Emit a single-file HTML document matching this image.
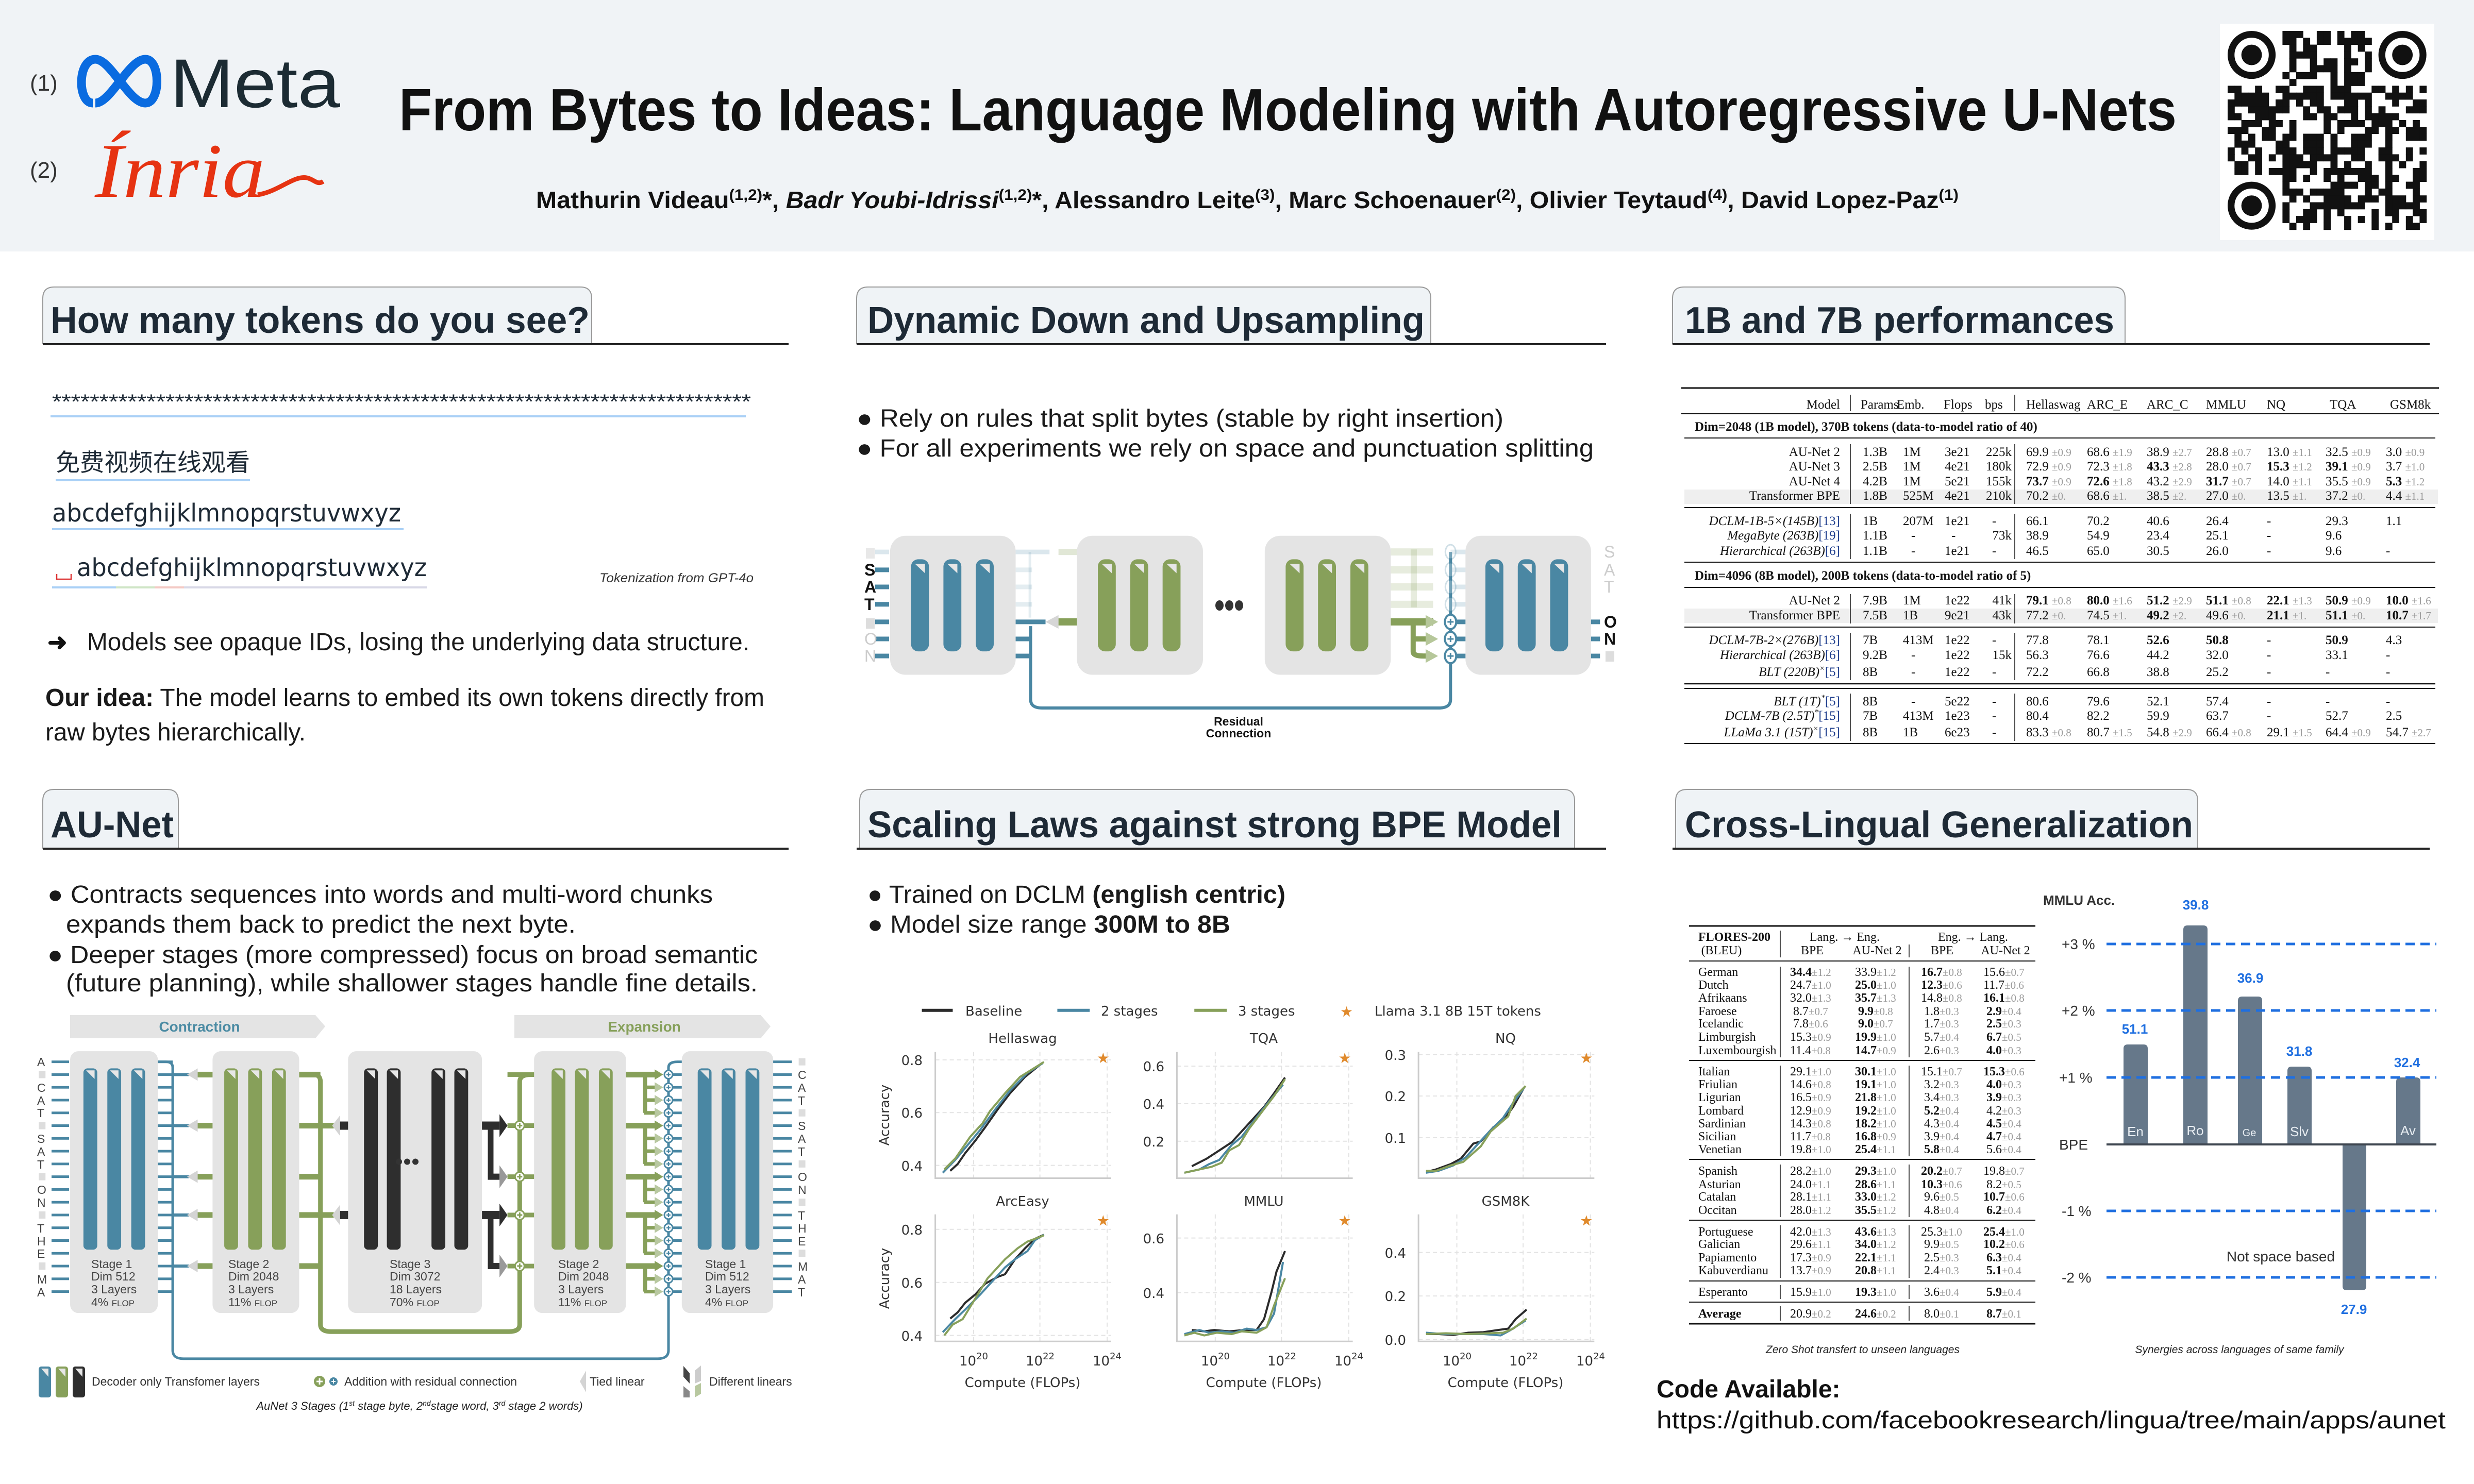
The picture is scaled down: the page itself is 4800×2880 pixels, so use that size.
<!DOCTYPE html>
<html><head><meta charset="utf-8">
<style>
html,body{margin:0;padding:0;background:#fff;}
svg{display:block;}
.s{font-family:"Liberation Sans","Noto Sans CJK SC",sans-serif;}
.sf{font-family:"Liberation Serif",serif;}
.tb{font-family:"Liberation Serif",serif;font-size:25px;fill:#111;}
.pm{fill:#9a9a9a;font-size:21px;}
.b{font-weight:bold;}
.e{text-anchor:end;}
.m{text-anchor:middle;}
.ct{font-family:"Liberation Serif",serif;font-size:24px;fill:#111;}
.hd{font-family:"Liberation Sans",sans-serif;font-weight:bold;font-size:72px;fill:#1e2a36;}
.bl{font-family:"Liberation Sans",sans-serif;font-size:48px;fill:#1a1a1a;}
.pl{font-family:"DejaVu Sans","Liberation Sans",sans-serif;font-size:26px;fill:#333;}
.au{font-family:"Liberation Sans",sans-serif;font-size:23px;fill:#444;}
.lt{font-family:"Liberation Sans",sans-serif;font-size:23px;fill:#333;}
</style></head>
<body>
<svg id="svg" xmlns="http://www.w3.org/2000/svg" width="4800" height="2880" viewBox="0 0 4800 2880">
<rect x="0" y="0" width="4800" height="2880" fill="#fff"/>
<rect x="0" y="0" width="4800" height="488" fill="#f0f3f6"/>

<!-- logos -->
<text x="58" y="176" class="s" font-size="44" fill="#333">(1)</text>
<path d="M180 200 C150 200 150 115 185 115 C215 115 250 200 282 200 C312 200 312 115 282 115 C250 115 215 200 185 200" fill="none" stroke="#0a6be0" stroke-width="17"/>
<text x="330" y="208" class="s" font-size="134" fill="#1c2b33" textLength="330" lengthAdjust="spacingAndGlyphs">Meta</text>
<text x="58" y="345" class="s" font-size="44" fill="#333">(2)</text>
<text x="184" y="382" font-family="Liberation Serif,serif" font-style="italic" font-size="150" fill="#e63312" textLength="330" lengthAdjust="spacingAndGlyphs">Ínria</text>
<path d="M500 378 C540 372 570 340 595 345 C610 348 615 360 627 352" fill="none" stroke="#e63312" stroke-width="9"/>

<!-- title -->
<text x="774" y="253" class="s" font-weight="bold" font-size="116" fill="#111" textLength="3449" lengthAdjust="spacingAndGlyphs">From Bytes to Ideas: Language Modeling with Autoregressive U-Nets</text>
<text x="1040" y="404" class="s" font-weight="bold" font-size="46" fill="#111" textLength="2760" lengthAdjust="spacingAndGlyphs">Mathurin Videau<tspan font-size="30" dy="-16">(1,2)</tspan><tspan dy="16">*, </tspan><tspan font-style="italic">Badr Youbi-Idrissi</tspan><tspan font-size="30" dy="-16">(1,2)</tspan><tspan dy="16">*, Alessandro Leite</tspan><tspan font-size="30" dy="-16">(3)</tspan><tspan dy="16">,  Marc Schoenauer</tspan><tspan font-size="30" dy="-16">(2)</tspan><tspan dy="16">, Olivier Teytaud</tspan><tspan font-size="30" dy="-16">(4)</tspan><tspan dy="16">, David Lopez-Paz</tspan><tspan font-size="30" dy="-16">(1)</tspan></text>

<!-- QR -->
<rect x="4307" y="46" width="416" height="420" fill="#fff"/>
<g id="qr"></g>

<!-- Section headers -->
<g id="tabs"></g>
<text x="98" y="646" class="hd" textLength="1046" lengthAdjust="spacingAndGlyphs">How many tokens do you see?</text>
<text x="1683" y="646" class="hd" textLength="1081" lengthAdjust="spacingAndGlyphs">Dynamic Down and Upsampling</text>
<text x="3269" y="646" class="hd" textLength="833" lengthAdjust="spacingAndGlyphs">1B and 7B performances</text>
<text x="98" y="1625" class="hd" textLength="239" lengthAdjust="spacingAndGlyphs">AU-Net</text>
<text x="1683" y="1625" class="hd" textLength="1347" lengthAdjust="spacingAndGlyphs">Scaling Laws against strong BPE Model</text>
<text x="3269" y="1625" class="hd" textLength="986" lengthAdjust="spacingAndGlyphs">Cross-Lingual Generalization</text>

<!-- Panel 1 -->
<text x="101" y="793" class="s" font-size="40" fill="#1e2a36" textLength="1356" lengthAdjust="spacingAndGlyphs">**************************************************************************</text>
<line x1="98" y1="808" x2="1447" y2="808" stroke="#a9d0f6" stroke-width="4"/>
<text x="108" y="914" font-family="Liberation Sans,Noto Sans CJK SC,sans-serif" font-size="47" fill="#1e2a36" textLength="377" lengthAdjust="spacingAndGlyphs">免费视频在线观看</text>
<line x1="108" y1="932" x2="485" y2="932" stroke="#a9d0f6" stroke-width="4"/>
<text x="101" y="1012" font-family="DejaVu Sans,Liberation Sans,sans-serif" font-size="48" fill="#1e2a36" textLength="677" lengthAdjust="spacingAndGlyphs">abcdefghijklmnopqrstuvwxyz</text>
<line x1="101" y1="1027" x2="783" y2="1027" stroke="#a9d0f6" stroke-width="4"/>
<path d="M110 1114 V1124 H138 V1114" fill="none" stroke="#d33" stroke-width="2.5"/>
<text x="149" y="1118" font-family="DejaVu Sans,Liberation Sans,sans-serif" font-size="48" fill="#1e2a36" textLength="679" lengthAdjust="spacingAndGlyphs">abcdefghijklmnopqrstuvwxyz</text>
<line x1="101" y1="1140" x2="225" y2="1140" stroke="#a9d0f6" stroke-width="4"/>
<line x1="225" y1="1140" x2="300" y2="1140" stroke="#cfe5c6" stroke-width="4"/>
<line x1="300" y1="1140" x2="357" y2="1140" stroke="#f3c9c4" stroke-width="4"/>
<line x1="357" y1="1140" x2="828" y2="1140" stroke="#d8d8e6" stroke-width="4"/>
<text x="1163" y="1130" class="s" font-style="italic" font-size="25" fill="#333" textLength="299" lengthAdjust="spacingAndGlyphs">Tokenization from GPT-4o</text>
<text x="92" y="1262" class="s" font-weight="bold" font-size="46" fill="#111">➜</text>
<text x="169" y="1262" class="bl" textLength="1285" lengthAdjust="spacingAndGlyphs">Models see opaque IDs, losing the underlying data structure.</text>
<text x="88" y="1370" class="bl" textLength="1395" lengthAdjust="spacingAndGlyphs"><tspan font-weight="bold">Our idea:</tspan> The model learns to embed its own tokens directly from</text>
<text x="88" y="1437" class="bl" textLength="505" lengthAdjust="spacingAndGlyphs">raw bytes hierarchically.</text>

<!-- Panel 2 -->
<text x="1662" y="828" class="bl" textLength="1255" lengthAdjust="spacingAndGlyphs">● Rely on rules that split bytes (stable by right insertion)</text>
<text x="1662" y="886" class="bl" textLength="1430" lengthAdjust="spacingAndGlyphs">● For all experiments we rely on space and punctuation splitting</text>
<g id="dyn"></g>
<text x="1677" y="1117" class="s b" font-weight="bold" font-size="32" fill="#111">S</text>
<text x="1677" y="1150" class="s" font-weight="bold" font-size="32" fill="#111">A</text>
<text x="1677" y="1184" class="s" font-weight="bold" font-size="32" fill="#111">T</text>
<text x="1677" y="1251" class="s" font-size="32" fill="#ccc">O</text>
<text x="1677" y="1284" class="s" font-size="32" fill="#ccc">N</text>
<text x="3112" y="1082" class="s" font-size="32" fill="#ccc">S</text>
<text x="3112" y="1117" class="s" font-size="32" fill="#ccc">A</text>
<text x="3112" y="1150" class="s" font-size="32" fill="#ccc">T</text>
<text x="3112" y="1218" class="s" font-weight="bold" font-size="32" fill="#111">O</text>
<text x="3112" y="1251" class="s" font-weight="bold" font-size="32" fill="#111">N</text>
<text x="2403" y="1408" class="s m" font-weight="bold" font-size="23" fill="#111">Residual</text>
<text x="2403" y="1431" class="s m" font-weight="bold" font-size="23" fill="#111">Connection</text>

<!-- Panel 3 table -->
<g id="t3lines"></g>
<rect x="3268" y="950" width="1462" height="28" fill="#efefef"/>
<rect x="3268" y="1181" width="1462" height="28" fill="#efefef"/>
<line x1="3262" y1="753" x2="4732" y2="753" stroke="#111" stroke-width="3"/>
<line x1="3262" y1="803" x2="4732" y2="803" stroke="#111" stroke-width="2"/>
<line x1="3268" y1="850" x2="4725" y2="850" stroke="#111" stroke-width="2"/>
<line x1="3268" y1="985" x2="4725" y2="985" stroke="#111" stroke-width="2"/>
<line x1="3268" y1="1091" x2="4725" y2="1091" stroke="#111" stroke-width="2"/>
<line x1="3268" y1="1140" x2="4725" y2="1140" stroke="#111" stroke-width="2"/>
<line x1="3268" y1="1217" x2="4725" y2="1217" stroke="#111" stroke-width="2"/>
<line x1="3268" y1="1327" x2="4725" y2="1327" stroke="#111" stroke-width="2.5"/>
<line x1="3268" y1="1336" x2="4725" y2="1336" stroke="#111" stroke-width="2"/>
<line x1="3268" y1="1443" x2="4725" y2="1443" stroke="#111" stroke-width="2"/>
<g stroke="#111" stroke-width="1.5">
<line x1="3590" y1="766" x2="3590" y2="798"/><line x1="3909" y1="766" x2="3909" y2="798"/>
<line x1="3590" y1="862" x2="3590" y2="978"/><line x1="3909" y1="862" x2="3909" y2="978"/>
<line x1="3590" y1="997" x2="3590" y2="1085"/><line x1="3909" y1="997" x2="3909" y2="1085"/>
<line x1="3590" y1="1153" x2="3590" y2="1210"/><line x1="3909" y1="1153" x2="3909" y2="1210"/>
<line x1="3590" y1="1228" x2="3590" y2="1320"/><line x1="3909" y1="1228" x2="3909" y2="1320"/>
<line x1="3590" y1="1346" x2="3590" y2="1438"/><line x1="3909" y1="1346" x2="3909" y2="1438"/>
</g>
<g class="tb">
<text x="3570" y="793" class="tb e">Model</text>
<text x="3610" y="793" class="tb">Params</text><text x="3680" y="793" class="tb">Emb.</text><text x="3771" y="793" class="tb">Flops</text><text x="3851" y="793" class="tb">bps</text>
<text x="3931" y="793" class="tb">Hellaswag</text><text x="4049" y="793" class="tb">ARC_E</text><text x="4165" y="793" class="tb">ARC_C</text><text x="4280" y="793" class="tb">MMLU</text><text x="4398" y="793" class="tb">NQ</text><text x="4520" y="793" class="tb">TQA</text><text x="4637" y="793" class="tb">GSM8k</text>
<text x="3288" y="836" class="tb b">Dim=2048 (1B model), 370B tokens (data-to-model ratio of 40)</text>

<text x="3570" y="885" class="tb e">AU-Net 2</text><text x="3614" y="885" class="tb">1.3B</text><text x="3692" y="885" class="tb">1M</text><text x="3773" y="885" class="tb">3e21</text><text x="3903" y="885" class="tb e">225k</text>
<text x="3931" y="885" class="tb">69.9 <tspan class="pm">±0.9</tspan></text><text x="4049" y="885" class="tb">68.6 <tspan class="pm">±1.9</tspan></text><text x="4165" y="885" class="tb">38.9 <tspan class="pm">±2.7</tspan></text><text x="4280" y="885" class="tb">28.8 <tspan class="pm">±0.7</tspan></text><text x="4398" y="885" class="tb">13.0 <tspan class="pm">±1.1</tspan></text><text x="4512" y="885" class="tb">32.5 <tspan class="pm">±0.9</tspan></text><text x="4629" y="885" class="tb">3.0 <tspan class="pm">±0.9</tspan></text>

<text x="3570" y="913" class="tb e">AU-Net 3</text><text x="3614" y="913" class="tb">2.5B</text><text x="3692" y="913" class="tb">1M</text><text x="3773" y="913" class="tb">4e21</text><text x="3903" y="913" class="tb e">180k</text>
<text x="3931" y="913" class="tb">72.9 <tspan class="pm">±0.9</tspan></text><text x="4049" y="913" class="tb">72.3 <tspan class="pm">±1.8</tspan></text><text x="4165" y="913" class="tb"><tspan class="b">43.3</tspan> <tspan class="pm">±2.8</tspan></text><text x="4280" y="913" class="tb">28.0 <tspan class="pm">±0.7</tspan></text><text x="4398" y="913" class="tb"><tspan class="b">15.3</tspan> <tspan class="pm">±1.2</tspan></text><text x="4512" y="913" class="tb"><tspan class="b">39.1</tspan> <tspan class="pm">±0.9</tspan></text><text x="4629" y="913" class="tb">3.7 <tspan class="pm">±1.0</tspan></text>

<text x="3570" y="942" class="tb e">AU-Net 4</text><text x="3614" y="942" class="tb">4.2B</text><text x="3692" y="942" class="tb">1M</text><text x="3773" y="942" class="tb">5e21</text><text x="3903" y="942" class="tb e">155k</text>
<text x="3931" y="942" class="tb"><tspan class="b">73.7</tspan> <tspan class="pm">±0.9</tspan></text><text x="4049" y="942" class="tb"><tspan class="b">72.6</tspan> <tspan class="pm">±1.8</tspan></text><text x="4165" y="942" class="tb">43.2 <tspan class="pm">±2.9</tspan></text><text x="4280" y="942" class="tb"><tspan class="b">31.7</tspan> <tspan class="pm">±0.7</tspan></text><text x="4398" y="942" class="tb">14.0 <tspan class="pm">±1.1</tspan></text><text x="4512" y="942" class="tb">35.5 <tspan class="pm">±0.9</tspan></text><text x="4629" y="942" class="tb"><tspan class="b">5.3</tspan> <tspan class="pm">±1.2</tspan></text>

<text x="3570" y="970" class="tb e">Transformer BPE</text><text x="3614" y="970" class="tb">1.8B</text><text x="3692" y="970" class="tb">525M</text><text x="3773" y="970" class="tb">4e21</text><text x="3903" y="970" class="tb e">210k</text>
<text x="3931" y="970" class="tb">70.2 <tspan class="pm">±0.</tspan></text><text x="4049" y="970" class="tb">68.6 <tspan class="pm">±1.</tspan></text><text x="4165" y="970" class="tb">38.5 <tspan class="pm">±2.</tspan></text><text x="4280" y="970" class="tb">27.0 <tspan class="pm">±0.</tspan></text><text x="4398" y="970" class="tb">13.5 <tspan class="pm">±1.</tspan></text><text x="4512" y="970" class="tb">37.2 <tspan class="pm">±0.</tspan></text><text x="4629" y="970" class="tb">4.4 <tspan class="pm">±1.1</tspan></text>

<text x="3570" y="1019" class="tb e" font-style="italic">DCLM-1B-5×(145B)<tspan fill="#1a3a8a" font-style="normal">[13]</tspan></text><text x="3614" y="1019" class="tb">1B</text><text x="3692" y="1019" class="tb">207M</text><text x="3773" y="1019" class="tb">1e21</text><text x="3865" y="1019" class="tb">-</text>
<text x="3931" y="1019" class="tb">66.1</text><text x="4049" y="1019" class="tb">70.2</text><text x="4165" y="1019" class="tb">40.6</text><text x="4280" y="1019" class="tb">26.4</text><text x="4398" y="1019" class="tb">-</text><text x="4512" y="1019" class="tb">29.3</text><text x="4629" y="1019" class="tb">1.1</text>

<text x="3570" y="1047" class="tb e" font-style="italic">MegaByte (263B)<tspan fill="#1a3a8a" font-style="normal">[19]</tspan></text><text x="3614" y="1047" class="tb">1.1B</text><text x="3708" y="1047" class="tb">-</text><text x="3786" y="1047" class="tb">-</text><text x="3903" y="1047" class="tb e">73k</text>
<text x="3931" y="1047" class="tb">38.9</text><text x="4049" y="1047" class="tb">54.9</text><text x="4165" y="1047" class="tb">23.4</text><text x="4280" y="1047" class="tb">25.1</text><text x="4398" y="1047" class="tb">-</text><text x="4512" y="1047" class="tb">9.6</text>

<text x="3570" y="1077" class="tb e" font-style="italic">Hierarchical (263B)<tspan fill="#1a3a8a" font-style="normal">[6]</tspan></text><text x="3614" y="1077" class="tb">1.1B</text><text x="3708" y="1077" class="tb">-</text><text x="3773" y="1077" class="tb">1e21</text><text x="3865" y="1077" class="tb">-</text>
<text x="3931" y="1077" class="tb">46.5</text><text x="4049" y="1077" class="tb">65.0</text><text x="4165" y="1077" class="tb">30.5</text><text x="4280" y="1077" class="tb">26.0</text><text x="4398" y="1077" class="tb">-</text><text x="4512" y="1077" class="tb">9.6</text><text x="4629" y="1077" class="tb">-</text>

<text x="3288" y="1125" class="tb b">Dim=4096 (8B model), 200B tokens (data-to-model ratio of 5)</text>

<text x="3570" y="1173" class="tb e">AU-Net 2</text><text x="3614" y="1173" class="tb">7.9B</text><text x="3692" y="1173" class="tb">1M</text><text x="3773" y="1173" class="tb">1e22</text><text x="3903" y="1173" class="tb e">41k</text>
<text x="3931" y="1173" class="tb"><tspan class="b">79.1</tspan> <tspan class="pm">±0.8</tspan></text><text x="4049" y="1173" class="tb"><tspan class="b">80.0</tspan> <tspan class="pm">±1.6</tspan></text><text x="4165" y="1173" class="tb"><tspan class="b">51.2</tspan> <tspan class="pm">±2.9</tspan></text><text x="4280" y="1173" class="tb"><tspan class="b">51.1</tspan> <tspan class="pm">±0.8</tspan></text><text x="4398" y="1173" class="tb"><tspan class="b">22.1</tspan> <tspan class="pm">±1.3</tspan></text><text x="4512" y="1173" class="tb"><tspan class="b">50.9</tspan> <tspan class="pm">±0.9</tspan></text><text x="4629" y="1173" class="tb"><tspan class="b">10.0</tspan> <tspan class="pm">±1.6</tspan></text>

<text x="3570" y="1202" class="tb e">Transformer BPE</text><text x="3614" y="1202" class="tb">7.5B</text><text x="3692" y="1202" class="tb">1B</text><text x="3773" y="1202" class="tb">9e21</text><text x="3903" y="1202" class="tb e">43k</text>
<text x="3931" y="1202" class="tb">77.2 <tspan class="pm">±0.</tspan></text><text x="4049" y="1202" class="tb">74.5 <tspan class="pm">±1.</tspan></text><text x="4165" y="1202" class="tb"><tspan class="b">49.2</tspan> <tspan class="pm">±2.</tspan></text><text x="4280" y="1202" class="tb">49.6 <tspan class="pm">±0.</tspan></text><text x="4398" y="1202" class="tb"><tspan class="b">21.1</tspan> <tspan class="pm">±1.</tspan></text><text x="4512" y="1202" class="tb"><tspan class="b">51.1</tspan> <tspan class="pm">±0.</tspan></text><text x="4629" y="1202" class="tb"><tspan class="b">10.7</tspan> <tspan class="pm">±1.7</tspan></text>

<text x="3570" y="1250" class="tb e" font-style="italic">DCLM-7B-2×(276B)<tspan fill="#1a3a8a" font-style="normal">[13]</tspan></text><text x="3614" y="1250" class="tb">7B</text><text x="3692" y="1250" class="tb">413M</text><text x="3773" y="1250" class="tb">1e22</text><text x="3865" y="1250" class="tb">-</text>
<text x="3931" y="1250" class="tb">77.8</text><text x="4049" y="1250" class="tb">78.1</text><text x="4165" y="1250" class="tb b">52.6</text><text x="4280" y="1250" class="tb b">50.8</text><text x="4398" y="1250" class="tb">-</text><text x="4512" y="1250" class="tb b">50.9</text><text x="4629" y="1250" class="tb">4.3</text>

<text x="3570" y="1279" class="tb e" font-style="italic">Hierarchical (263B)<tspan fill="#1a3a8a" font-style="normal">[6]</tspan></text><text x="3614" y="1279" class="tb">9.2B</text><text x="3708" y="1279" class="tb">-</text><text x="3773" y="1279" class="tb">1e22</text><text x="3903" y="1279" class="tb e">15k</text>
<text x="3931" y="1279" class="tb">56.3</text><text x="4049" y="1279" class="tb">76.6</text><text x="4165" y="1279" class="tb">44.2</text><text x="4280" y="1279" class="tb">32.0</text><text x="4398" y="1279" class="tb">-</text><text x="4512" y="1279" class="tb">33.1</text><text x="4629" y="1279" class="tb">-</text>

<text x="3570" y="1312" class="tb e" font-style="italic">BLT (220B)<tspan font-size="16" dy="-10">×</tspan><tspan dy="10" fill="#1a3a8a" font-style="normal">[5]</tspan></text><text x="3614" y="1312" class="tb">8B</text><text x="3708" y="1312" class="tb">-</text><text x="3773" y="1312" class="tb">1e22</text><text x="3865" y="1312" class="tb">-</text>
<text x="3931" y="1312" class="tb">72.2</text><text x="4049" y="1312" class="tb">66.8</text><text x="4165" y="1312" class="tb">38.8</text><text x="4280" y="1312" class="tb">25.2</text><text x="4398" y="1312" class="tb">-</text><text x="4512" y="1312" class="tb">-</text><text x="4629" y="1312" class="tb">-</text>

<text x="3570" y="1369" class="tb e" font-style="italic">BLT (1T)<tspan font-size="16" dy="-10">*</tspan><tspan dy="10" fill="#1a3a8a" font-style="normal">[5]</tspan></text><text x="3614" y="1369" class="tb">8B</text><text x="3708" y="1369" class="tb">-</text><text x="3773" y="1369" class="tb">5e22</text><text x="3865" y="1369" class="tb">-</text>
<text x="3931" y="1369" class="tb">80.6</text><text x="4049" y="1369" class="tb">79.6</text><text x="4165" y="1369" class="tb">52.1</text><text x="4280" y="1369" class="tb">57.4</text><text x="4398" y="1369" class="tb">-</text><text x="4512" y="1369" class="tb">-</text><text x="4629" y="1369" class="tb">-</text>

<text x="3570" y="1397" class="tb e" font-style="italic">DCLM-7B (2.5T)<tspan font-size="16" dy="-10">*</tspan><tspan dy="10" fill="#1a3a8a" font-style="normal">[15]</tspan></text><text x="3614" y="1397" class="tb">7B</text><text x="3692" y="1397" class="tb">413M</text><text x="3773" y="1397" class="tb">1e23</text><text x="3865" y="1397" class="tb">-</text>
<text x="3931" y="1397" class="tb">80.4</text><text x="4049" y="1397" class="tb">82.2</text><text x="4165" y="1397" class="tb">59.9</text><text x="4280" y="1397" class="tb">63.7</text><text x="4398" y="1397" class="tb">-</text><text x="4512" y="1397" class="tb">52.7</text><text x="4629" y="1397" class="tb">2.5</text>

<text x="3570" y="1429" class="tb e" font-style="italic">LLaMa 3.1 (15T)<tspan font-size="16" dy="-10">×</tspan><tspan dy="10" fill="#1a3a8a" font-style="normal">[15]</tspan></text><text x="3614" y="1429" class="tb">8B</text><text x="3692" y="1429" class="tb">1B</text><text x="3773" y="1429" class="tb">6e23</text><text x="3865" y="1429" class="tb">-</text>
<text x="3931" y="1429" class="tb">83.3 <tspan class="pm">±0.8</tspan></text><text x="4049" y="1429" class="tb">80.7 <tspan class="pm">±1.5</tspan></text><text x="4165" y="1429" class="tb">54.8 <tspan class="pm">±2.9</tspan></text><text x="4280" y="1429" class="tb">66.4 <tspan class="pm">±0.8</tspan></text><text x="4398" y="1429" class="tb">29.1 <tspan class="pm">±1.5</tspan></text><text x="4512" y="1429" class="tb">64.4 <tspan class="pm">±0.9</tspan></text><text x="4629" y="1429" class="tb">54.7 <tspan class="pm">±2.7</tspan></text>
</g>

<!-- Panel 4 AU-Net -->
<text x="92" y="1752" class="bl" textLength="1291" lengthAdjust="spacingAndGlyphs">● Contracts sequences into words and multi-word chunks</text>
<text x="128" y="1810" class="bl" textLength="989" lengthAdjust="spacingAndGlyphs">expands them back to predict the next byte.</text>
<text x="92" y="1869" class="bl" textLength="1378" lengthAdjust="spacingAndGlyphs">● Deeper stages (more compressed) focus on broad semantic</text>
<text x="128" y="1924" class="bl" textLength="1342" lengthAdjust="spacingAndGlyphs">(future planning), while shallower stages handle fine details.</text>
<path d="M136 1970 H612 L631 1992 L612 2015 H136 Z" fill="#e4e4e4"/>
<path d="M998 1970 H1476 L1495 1992 L1476 2015 H998 Z" fill="#e4e4e4"/>
<text x="387" y="2002" class="s m" font-size="28" fill="#4b8ba3" font-weight="bold">Contraction</text>
<text x="1250" y="2002" class="s m" font-size="28" fill="#86a05a" font-weight="bold">Expansion</text>
<g id="au"></g>
<g class="au" font-family="Liberation Sans,sans-serif" font-size="23" fill="#333">
<text x="72" y="2069">A</text><text x="72" y="2119">C</text><text x="72" y="2144">A</text><text x="72" y="2168">T</text>
<text x="72" y="2218">S</text><text x="72" y="2243">A</text><text x="72" y="2268">T</text>
<text x="72" y="2317">O</text><text x="72" y="2342">N</text>
<text x="72" y="2392">T</text><text x="72" y="2417">H</text><text x="72" y="2441">E</text>
<text x="72" y="2491">M</text><text x="72" y="2516">A</text>
<text x="1548" y="2094">C</text><text x="1548" y="2119">A</text><text x="1548" y="2144">T</text>
<text x="1548" y="2193">S</text><text x="1548" y="2218">A</text><text x="1548" y="2243">T</text>
<text x="1548" y="2292">O</text><text x="1548" y="2317">N</text>
<text x="1548" y="2367">T</text><text x="1548" y="2392">H</text><text x="1548" y="2417">E</text>
<text x="1548" y="2466">M</text><text x="1548" y="2491">A</text><text x="1548" y="2516">T</text>
</g>
<g class="au">
<text x="177" y="2461">Stage 1</text><text x="177" y="2485">Dim 512</text><text x="177" y="2510">3 Layers</text><text x="177" y="2535">4% <tspan font-size="17">FLOP</tspan></text>
<text x="443" y="2461">Stage 2</text><text x="443" y="2485">Dim 2048</text><text x="443" y="2510">3 Layers</text><text x="443" y="2535">11% <tspan font-size="17">FLOP</tspan></text>
<text x="756" y="2461">Stage 3</text><text x="756" y="2485">Dim 3072</text><text x="756" y="2510">18 Layers</text><text x="756" y="2535">70% <tspan font-size="17">FLOP</tspan></text>
<text x="1083" y="2461">Stage 2</text><text x="1083" y="2485">Dim 2048</text><text x="1083" y="2510">3 Layers</text><text x="1083" y="2535">11% <tspan font-size="17">FLOP</tspan></text>
<text x="1368" y="2461">Stage 1</text><text x="1368" y="2485">Dim 512</text><text x="1368" y="2510">3 Layers</text><text x="1368" y="2535">4% <tspan font-size="17">FLOP</tspan></text>
</g>
<text x="178" y="2689" class="lt">Decoder only Transfomer layers</text>
<text x="668" y="2689" class="lt">Addition with residual connection</text>
<text x="1144" y="2689" class="lt">Tied linear</text>
<text x="1376" y="2689" class="lt">Different linears</text>
<text x="814" y="2736" class="s m" font-style="italic" font-size="22" fill="#222">AuNet 3 Stages (1<tspan font-size="14" dy="-8">st</tspan><tspan dy="8"> stage byte, 2</tspan><tspan font-size="14" dy="-8">nd</tspan><tspan dy="8">stage word, 3</tspan><tspan font-size="14" dy="-8">rd</tspan><tspan dy="8"> stage 2 words)</tspan></text>

<!-- Panel 5 scaling -->
<text x="1683" y="1752" class="bl" textLength="811" lengthAdjust="spacingAndGlyphs">● Trained on DCLM <tspan font-weight="bold">(english centric)</tspan></text>
<text x="1683" y="1810" class="bl" textLength="704" lengthAdjust="spacingAndGlyphs">● Model size range <tspan font-weight="bold">300M to 8B</tspan></text>
<g id="plots"></g>
<g class="pl">
<text x="1873" y="1971">Baseline</text><text x="2136" y="1971">2 stages</text><text x="2402" y="1971">3 stages</text>
<text x="2600" y="1973" fill="#e08a2c" font-size="28">★</text><text x="2667" y="1971">Llama 3.1 8B 15T tokens</text>
<text x="1984" y="2024" class="m" text-anchor="middle">Hellaswag</text><text x="2452" y="2024" text-anchor="middle">TQA</text><text x="2921" y="2024" text-anchor="middle">NQ</text>
<text x="1984" y="2340" text-anchor="middle">ArcEasy</text><text x="2452" y="2340" text-anchor="middle">MMLU</text><text x="2921" y="2340" text-anchor="middle">GSM8K</text>
<text x="1790" y="2067" text-anchor="end">0.8</text><text x="1790" y="2169" text-anchor="end">0.6</text><text x="1790" y="2272" text-anchor="end">0.4</text>
<text x="2259" y="2079" text-anchor="end">0.6</text><text x="2259" y="2152" text-anchor="end">0.4</text><text x="2259" y="2225" text-anchor="end">0.2</text>
<text x="2728" y="2057" text-anchor="end">0.3</text><text x="2728" y="2137" text-anchor="end">0.2</text><text x="2728" y="2218" text-anchor="end">0.1</text>
<text x="1790" y="2396" text-anchor="end">0.8</text><text x="1790" y="2499" text-anchor="end">0.6</text><text x="1790" y="2602" text-anchor="end">0.4</text>
<text x="2259" y="2413" text-anchor="end">0.6</text><text x="2259" y="2519" text-anchor="end">0.4</text>
<text x="2728" y="2441" text-anchor="end">0.4</text><text x="2728" y="2525" text-anchor="end">0.2</text><text x="2728" y="2610" text-anchor="end">0.0</text>
<text x="1889" y="2650" text-anchor="middle">10<tspan font-size="18" dy="-12">20</tspan></text><text x="2018" y="2650" text-anchor="middle">10<tspan font-size="18" dy="-12">22</tspan></text><text x="2148" y="2650" text-anchor="middle">10<tspan font-size="18" dy="-12">24</tspan></text>
<text x="2358" y="2650" text-anchor="middle">10<tspan font-size="18" dy="-12">20</tspan></text><text x="2487" y="2650" text-anchor="middle">10<tspan font-size="18" dy="-12">22</tspan></text><text x="2617" y="2650" text-anchor="middle">10<tspan font-size="18" dy="-12">24</tspan></text>
<text x="2827" y="2650" text-anchor="middle">10<tspan font-size="18" dy="-12">20</tspan></text><text x="2956" y="2650" text-anchor="middle">10<tspan font-size="18" dy="-12">22</tspan></text><text x="3086" y="2650" text-anchor="middle">10<tspan font-size="18" dy="-12">24</tspan></text>
<text x="1984" y="2692" text-anchor="middle">Compute (FLOPs)</text><text x="2452" y="2692" text-anchor="middle">Compute (FLOPs)</text><text x="2921" y="2692" text-anchor="middle">Compute (FLOPs)</text>
<text transform="translate(1725,2164) rotate(-90)" text-anchor="middle">Accuracy</text>
<text transform="translate(1725,2481) rotate(-90)" text-anchor="middle">Accuracy</text>
</g>

<!-- Panel 6 cross-lingual -->
<g id="clines"></g>
<g class="ct">
<text x="3295" y="1826" class="ct b">FLORES-200</text><text x="3340" y="1852" class="ct m">(BLEU)</text>
<text x="3579" y="1826" class="ct m">Lang. → Eng.</text><text x="3828" y="1826" class="ct m">Eng. → Lang.</text>
<text x="3516" y="1852" class="ct m">BPE</text><text x="3642" y="1852" class="ct m">AU-Net 2</text><text x="3768" y="1852" class="ct m">BPE</text><text x="3891" y="1852" class="ct m">AU-Net 2</text>
</g>
<g id="ctab"></g>
<text x="3614" y="2626" class="s m" font-style="italic" font-size="21" fill="#222">Zero Shot transfert to unseen languages</text>

<g id="bars"></g>
<text x="3964" y="1756" class="s" font-size="26" fill="#333" font-weight="bold">MMLU Acc.</text>
<g class="s" font-size="28" fill="#333">
<text x="4000" y="1842">+3 %</text><text x="4000" y="1971">+2 %</text><text x="3995" y="2101">+1 %</text>
<text x="3995" y="2231">BPE</text><text x="4000" y="2360">-1 %</text><text x="4000" y="2489">-2 %</text>
<text x="4425" y="2448" class="m" text-anchor="middle">Not space based</text>
</g>
<g class="s" font-size="26" fill="#1f6fe0" font-weight="bold" text-anchor="middle">
<text x="4142" y="2006">51.1</text><text x="4260" y="1765">39.8</text><text x="4366" y="1907">36.9</text><text x="4461" y="2049">31.8</text><text x="4670" y="2071">32.4</text><text x="4567" y="2550">27.9</text>
</g>
<g class="s" font-size="26" fill="#e8edf2" text-anchor="middle">
<text x="4143" y="2205">En</text><text x="4259" y="2203">Ro</text><text x="4364" y="2205" font-size="20">Ge</text><text x="4461" y="2205">Slv</text><text x="4672" y="2203">Av</text>
</g>
<text x="4345" y="2626" class="s m" font-style="italic" font-size="21" fill="#222">Synergies across languages of same family</text>

<text x="3214" y="2712" class="s" font-weight="bold" font-size="48" fill="#111">Code Available:</text>
<text x="3214" y="2772" class="s" font-size="47" fill="#111" textLength="1531" lengthAdjust="spacingAndGlyphs">https://github.com/facebookresearch/lingua/tree/main/apps/aunet</text>

<g class="ct" id="crow">
<text x="3295" y="1894">German</text><text x="3473" y="1894"><tspan class="b">34.4</tspan><tspan class="pm">±1.2</tspan></text><text x="3599" y="1894">33.9<tspan class="pm">±1.2</tspan></text><text x="3727" y="1894"><tspan class="b">16.7</tspan><tspan class="pm">±0.8</tspan></text><text x="3848" y="1894">15.6<tspan class="pm">±0.7</tspan></text>
<text x="3295" y="1919">Dutch</text><text x="3473" y="1919">24.7<tspan class="pm">±1.0</tspan></text><text x="3599" y="1919"><tspan class="b">25.0</tspan><tspan class="pm">±1.0</tspan></text><text x="3727" y="1919"><tspan class="b">12.3</tspan><tspan class="pm">±0.6</tspan></text><text x="3848" y="1919">11.7<tspan class="pm">±0.6</tspan></text>
<text x="3295" y="1944">Afrikaans</text><text x="3473" y="1944">32.0<tspan class="pm">±1.3</tspan></text><text x="3599" y="1944"><tspan class="b">35.7</tspan><tspan class="pm">±1.3</tspan></text><text x="3727" y="1944">14.8<tspan class="pm">±0.8</tspan></text><text x="3848" y="1944"><tspan class="b">16.1</tspan><tspan class="pm">±0.8</tspan></text>
<text x="3295" y="1970">Faroese</text><text x="3479" y="1970">8.7<tspan class="pm">±0.7</tspan></text><text x="3605" y="1970"><tspan class="b">9.9</tspan><tspan class="pm">±0.8</tspan></text><text x="3733" y="1970">1.8<tspan class="pm">±0.3</tspan></text><text x="3854" y="1970"><tspan class="b">2.9</tspan><tspan class="pm">±0.4</tspan></text>
<text x="3295" y="1994">Icelandic</text><text x="3479" y="1994">7.8<tspan class="pm">±0.6</tspan></text><text x="3605" y="1994"><tspan class="b">9.0</tspan><tspan class="pm">±0.7</tspan></text><text x="3733" y="1994">1.7<tspan class="pm">±0.3</tspan></text><text x="3854" y="1994"><tspan class="b">2.5</tspan><tspan class="pm">±0.3</tspan></text>
<text x="3295" y="2020">Limburgish</text><text x="3473" y="2020">15.3<tspan class="pm">±0.9</tspan></text><text x="3599" y="2020"><tspan class="b">19.9</tspan><tspan class="pm">±1.0</tspan></text><text x="3733" y="2020">5.7<tspan class="pm">±0.4</tspan></text><text x="3854" y="2020"><tspan class="b">6.7</tspan><tspan class="pm">±0.5</tspan></text>
<text x="3295" y="2046">Luxembourgish</text><text x="3473" y="2046">11.4<tspan class="pm">±0.8</tspan></text><text x="3599" y="2046"><tspan class="b">14.7</tspan><tspan class="pm">±0.9</tspan></text><text x="3733" y="2046">2.6<tspan class="pm">±0.3</tspan></text><text x="3854" y="2046"><tspan class="b">4.0</tspan><tspan class="pm">±0.3</tspan></text>
<text x="3295" y="2087">Italian</text><text x="3473" y="2087">29.1<tspan class="pm">±1.0</tspan></text><text x="3599" y="2087"><tspan class="b">30.1</tspan><tspan class="pm">±1.0</tspan></text><text x="3727" y="2087">15.1<tspan class="pm">±0.7</tspan></text><text x="3848" y="2087"><tspan class="b">15.3</tspan><tspan class="pm">±0.6</tspan></text>
<text x="3295" y="2112">Friulian</text><text x="3473" y="2112">14.6<tspan class="pm">±0.8</tspan></text><text x="3599" y="2112"><tspan class="b">19.1</tspan><tspan class="pm">±1.0</tspan></text><text x="3733" y="2112">3.2<tspan class="pm">±0.3</tspan></text><text x="3854" y="2112"><tspan class="b">4.0</tspan><tspan class="pm">±0.3</tspan></text>
<text x="3295" y="2137">Ligurian</text><text x="3473" y="2137">16.5<tspan class="pm">±0.9</tspan></text><text x="3599" y="2137"><tspan class="b">21.8</tspan><tspan class="pm">±1.0</tspan></text><text x="3733" y="2137">3.4<tspan class="pm">±0.3</tspan></text><text x="3854" y="2137"><tspan class="b">3.9</tspan><tspan class="pm">±0.3</tspan></text>
<text x="3295" y="2163">Lombard</text><text x="3473" y="2163">12.9<tspan class="pm">±0.9</tspan></text><text x="3599" y="2163"><tspan class="b">19.2</tspan><tspan class="pm">±1.0</tspan></text><text x="3733" y="2163"><tspan class="b">5.2</tspan><tspan class="pm">±0.4</tspan></text><text x="3854" y="2163">4.2<tspan class="pm">±0.3</tspan></text>
<text x="3295" y="2188">Sardinian</text><text x="3473" y="2188">14.3<tspan class="pm">±0.8</tspan></text><text x="3599" y="2188"><tspan class="b">18.2</tspan><tspan class="pm">±1.0</tspan></text><text x="3733" y="2188">4.3<tspan class="pm">±0.4</tspan></text><text x="3854" y="2188"><tspan class="b">4.5</tspan><tspan class="pm">±0.4</tspan></text>
<text x="3295" y="2213">Sicilian</text><text x="3473" y="2213">11.7<tspan class="pm">±0.8</tspan></text><text x="3599" y="2213"><tspan class="b">16.8</tspan><tspan class="pm">±0.9</tspan></text><text x="3733" y="2213">3.9<tspan class="pm">±0.4</tspan></text><text x="3854" y="2213"><tspan class="b">4.7</tspan><tspan class="pm">±0.4</tspan></text>
<text x="3295" y="2238">Venetian</text><text x="3473" y="2238">19.8<tspan class="pm">±1.0</tspan></text><text x="3599" y="2238"><tspan class="b">25.4</tspan><tspan class="pm">±1.1</tspan></text><text x="3733" y="2238"><tspan class="b">5.8</tspan><tspan class="pm">±0.4</tspan></text><text x="3854" y="2238">5.6<tspan class="pm">±0.4</tspan></text>
<text x="3295" y="2280">Spanish</text><text x="3473" y="2280">28.2<tspan class="pm">±1.0</tspan></text><text x="3599" y="2280"><tspan class="b">29.3</tspan><tspan class="pm">±1.0</tspan></text><text x="3727" y="2280"><tspan class="b">20.2</tspan><tspan class="pm">±0.7</tspan></text><text x="3848" y="2280">19.8<tspan class="pm">±0.7</tspan></text>
<text x="3295" y="2306">Asturian</text><text x="3473" y="2306">24.0<tspan class="pm">±1.1</tspan></text><text x="3599" y="2306"><tspan class="b">28.6</tspan><tspan class="pm">±1.1</tspan></text><text x="3727" y="2306"><tspan class="b">10.3</tspan><tspan class="pm">±0.6</tspan></text><text x="3854" y="2306">8.2<tspan class="pm">±0.5</tspan></text>
<text x="3295" y="2330">Catalan</text><text x="3473" y="2330">28.1<tspan class="pm">±1.1</tspan></text><text x="3599" y="2330"><tspan class="b">33.0</tspan><tspan class="pm">±1.2</tspan></text><text x="3733" y="2330">9.6<tspan class="pm">±0.5</tspan></text><text x="3848" y="2330"><tspan class="b">10.7</tspan><tspan class="pm">±0.6</tspan></text>
<text x="3295" y="2356">Occitan</text><text x="3473" y="2356">28.0<tspan class="pm">±1.2</tspan></text><text x="3599" y="2356"><tspan class="b">35.5</tspan><tspan class="pm">±1.2</tspan></text><text x="3733" y="2356">4.8<tspan class="pm">±0.4</tspan></text><text x="3854" y="2356"><tspan class="b">6.2</tspan><tspan class="pm">±0.4</tspan></text>
<text x="3295" y="2398">Portuguese</text><text x="3473" y="2398">42.0<tspan class="pm">±1.3</tspan></text><text x="3599" y="2398"><tspan class="b">43.6</tspan><tspan class="pm">±1.3</tspan></text><text x="3727" y="2398">25.3<tspan class="pm">±1.0</tspan></text><text x="3848" y="2398"><tspan class="b">25.4</tspan><tspan class="pm">±1.0</tspan></text>
<text x="3295" y="2422">Galician</text><text x="3473" y="2422">29.6<tspan class="pm">±1.1</tspan></text><text x="3599" y="2422"><tspan class="b">34.0</tspan><tspan class="pm">±1.2</tspan></text><text x="3733" y="2422">9.9<tspan class="pm">±0.5</tspan></text><text x="3848" y="2422"><tspan class="b">10.2</tspan><tspan class="pm">±0.6</tspan></text>
<text x="3295" y="2448">Papiamento</text><text x="3473" y="2448">17.3<tspan class="pm">±0.9</tspan></text><text x="3599" y="2448"><tspan class="b">22.1</tspan><tspan class="pm">±1.1</tspan></text><text x="3733" y="2448">2.5<tspan class="pm">±0.3</tspan></text><text x="3854" y="2448"><tspan class="b">6.3</tspan><tspan class="pm">±0.4</tspan></text>
<text x="3295" y="2473">Kabuverdianu</text><text x="3473" y="2473">13.7<tspan class="pm">±0.9</tspan></text><text x="3599" y="2473"><tspan class="b">20.8</tspan><tspan class="pm">±1.1</tspan></text><text x="3733" y="2473">2.4<tspan class="pm">±0.3</tspan></text><text x="3854" y="2473"><tspan class="b">5.1</tspan><tspan class="pm">±0.4</tspan></text>
<text x="3295" y="2515">Esperanto</text><text x="3473" y="2515">15.9<tspan class="pm">±1.0</tspan></text><text x="3599" y="2515"><tspan class="b">19.3</tspan><tspan class="pm">±1.0</tspan></text><text x="3733" y="2515">3.6<tspan class="pm">±0.4</tspan></text><text x="3854" y="2515"><tspan class="b">5.9</tspan><tspan class="pm">±0.4</tspan></text>
<text x="3295" y="2557" class="b">Average</text><text x="3473" y="2557">20.9<tspan class="pm">±0.2</tspan></text><text x="3599" y="2557"><tspan class="b">24.6</tspan><tspan class="pm">±0.2</tspan></text><text x="3733" y="2557">8.0<tspan class="pm">±0.1</tspan></text><text x="3854" y="2557"><tspan class="b">8.7</tspan><tspan class="pm">±0.1</tspan></text>
</g>
</svg>
<script>
(function(){
const NS='http://www.w3.org/2000/svg';
function el(p,t,a){const e=document.createElementNS(NS,t);for(const k in a)e.setAttribute(k,a[k]);p.appendChild(e);return e;}
const $=id=>document.getElementById(id);
const B='#4a87a3',G='#87a05a',K='#2e2e2e',GR='#e4e4e4';

// tabs
const tabs=$('tabs');
[[83,1148,557,668,83,1530],[1662,2776,557,668,1662,3116],[3245,4123,557,668,3245,4714],
 [83,346,1532,1647,83,1530],[1668,3055,1532,1647,1662,3116],[3251,4264,1532,1647,3245,4714]].forEach(([a,b,t,bt,l1,l2])=>{
 el(tabs,'path',{d:`M${a} ${bt} V${t+22} Q${a} ${t} ${a+22} ${t} H${b-22} Q${b} ${t} ${b} ${t+22} V${bt}`,fill:'#eff3f6',stroke:'#9a9a9a','stroke-width':2});
 el(tabs,'line',{x1:l1,y1:bt,x2:l2,y2:bt,stroke:'#222','stroke-width':4});
});

// QR
const qr=$('qr');let seed=7;const rnd=()=>{seed=(seed*9301+49297)%233280;return seed/233280;};
const N=29,S=13.3,ox=4322,oy=60;
const inF=(i,j)=>(i<8&&j<8)||(i>N-9&&j<8)||(i<8&&j>N-9);
for(let i=0;i<N;i++)for(let j=0;j<N;j++){if(inF(i,j))continue;if(rnd()<0.5)el(qr,'rect',{x:ox+i*S,y:oy+j*S,width:S+.5,height:S+.5,fill:'#111'});}
[[0,0],[N-7,0],[0,N-7]].forEach(([i,j])=>{const x=ox+i*S,y=oy+j*S;
 el(qr,'rect',{x:x+S/2,y:y+S/2,width:6*S,height:6*S,rx:3*S,fill:'none',stroke:'#111','stroke-width':S});
 el(qr,'rect',{x:x+2*S,y:y+2*S,width:3*S,height:3*S,rx:1.5*S,fill:'#111'});});

// Dynamic diagram
(function(){const g=$('dyn');const X=z=>1640+z*0.9665,Y=z=>1000+z*0.331;
const hl=(a,b,y,c,w,op)=>el(g,'rect',{x:X(a),y:Y(y)-w/2,width:X(b)-X(a),height:w,fill:c,opacity:op||1});
// faded top
hl(60,88,215,B,9,.2);hl(342,410,215,B,9,.2);hl(428,465,215,G,12,.25);
[320,420,522].forEach(y=>hl(342,375,y,B,9,.15));
el(g,'rect',{x:X(368),y:Y(215),width:5,height:Y(600)-Y(215),fill:B,opacity:.15});
[320,420,522,625,725,825].forEach(y=>hl(60,88,y,B,9));
[[90,342],[465,718],[842,1095],[1245,1497]].forEach(([a,b])=>el(g,'rect',{x:X(a),y:Y(120),width:X(b)-X(a),height:Y(935)-Y(120),rx:30,fill:GR}));
const bars=(xs,c)=>xs.forEach(a=>{el(g,'rect',{x:X(a),y:Y(258),width:X(a+36)-X(a),height:Y(798)-Y(258),rx:14,fill:c});
 el(g,'polygon',{points:`${X(a+8)},${Y(285)} ${X(a+28)},${Y(285)} ${X(a+28)},${Y(340)}`,fill:'#e6e6e6'});});
bars([132,197,262],B);bars([507,572,637],G);bars([884,949,1014],G);bars([1285,1350,1415],B);
// solid path row 625
hl(342,402,625,B,9);el(g,'polygon',{points:`${X(402)},${Y(625)} ${X(428)},${Y(585)} ${X(428)},${Y(665)}`,fill:'#d6d6d6'});hl(428,465,625,G,14);
[725,825].forEach(y=>hl(342,372,y,B,9));
el(g,'path',{d:`M${X(372)} ${Y(650)} V${Y(1080)} Q${X(372)} ${Y(1130)} ${X(395)} ${Y(1130)} H${X(1192)} Q${X(1215)} ${Y(1130)} ${X(1215)} ${Y(1080)} V${Y(215)}`,fill:'none',stroke:B,'stroke-width':6});
// right side faded upper
[215,320,420,522].forEach(y=>{hl(1095,1180,y,G,14,.2);hl(1215,1245,y,B,9,.2);el(g,'ellipse',{cx:X(1215),cy:Y(y),rx:10,ry:14,fill:'#fff',stroke:B,'stroke-width':3,opacity:.25});});
el(g,'rect',{x:X(1135),y:Y(200),width:12,height:Y(540)-Y(200),fill:G,opacity:.2});
hl(1095,1180,625,G,14);
el(g,'path',{d:`M${X(1140)} ${Y(625)} V${Y(800)} Q${X(1140)} ${Y(825)} ${X(1160)} ${Y(825)} H${X(1180)} M${X(1140)} ${Y(725)} H${X(1180)}`,fill:'none',stroke:G,'stroke-width':10});
[625,725,825].forEach(y=>{el(g,'polygon',{points:`${X(1165)},${Y(y-40)} ${X(1190)},${Y(y)} ${X(1165)},${Y(y+40)}`,fill:'#b6c79a'});
 hl(1215,1245,y,B,9);hl(1497,1515,y,B,9);
 el(g,'ellipse',{cx:X(1215),cy:Y(y),rx:11,ry:14,fill:'#fff',stroke:B,'stroke-width':4});
 el(g,'path',{d:`M${X(1215)-6} ${Y(y)} h12 M${X(1215)} ${Y(y)-6} v12`,stroke:B,'stroke-width':3});});
// squares
[[1680,1064,'#e8e8e8'],[1680,1200,'#ddd'],[3115,1264,'#ddd']].forEach(([x,y,c])=>el(g,'rect',{x:x,y:y,width:17,height:20,fill:c}));
// dots
[2366,2385,2404].forEach(x=>el(g,'ellipse',{cx:x,cy:1175,rx:8,ry:10,fill:'#333'}));
})();

// AU-Net diagram
(function(){const g=$('au');const X=z=>z*1.031,Y=z=>1900+z*0.554;
const ry=i=>290+i*44.72;
const hl=(a,b,y,c,w)=>el(g,'rect',{x:X(a),y:Y(y)-w/2,width:X(b)-X(a),height:w,fill:c});
[[132,297],[400,563],[655,907],[1005,1178],[1283,1455]].forEach(([a,b])=>el(g,'rect',{x:X(a),y:Y(253),width:X(b)-X(a),height:Y(1170)-Y(253),rx:16,fill:GR}));
const bars=(xs,c)=>xs.forEach(a=>{el(g,'rect',{x:X(a),y:Y(313),width:X(a+26)-X(a),height:Y(948)-Y(313),rx:8,fill:c});
 el(g,'polygon',{points:`${X(a+5)},${Y(320)} ${X(a+21)},${Y(320)} ${X(a+21)},${Y(350)}`,fill:'#e6e6e6'});});
bars([157,202,247],B);bars([422,467,512],G);bars([685,728,812,855],K);bars([1038,1082,1127],G);bars([1313,1358,1403],B);
[774,790,806].forEach(x=>el(g,'circle',{cx:x,cy:Y(640),r:6,fill:'#333'}));
const main=[1,5,9,12,16];
for(let i=0;i<19;i++){const y=ry(i);hl(97,130,y,B,5);hl(297,325,y,B,5);hl(1455,1490,y,B,5);}
[1,5,9,12,16].forEach(i=>el(g,'rect',{x:X(73),y:Y(ry(i))-7,width:13,height:14,fill:'#ddd'}));
[0,4,8,11,15].forEach(i=>el(g,'rect',{x:X(1503),y:Y(ry(i))-7,width:13,height:14,fill:'#ddd'}));
el(g,'path',{d:`M${X(297)} ${Y(290)} H${X(312)} Q${X(325)} ${Y(290)} ${X(325)} ${Y(310)} V${Y(1300)} Q${X(325)} ${Y(1330)} ${X(345)} ${Y(1330)} H${X(1238)} Q${X(1258)} ${Y(1330)} ${X(1258)} ${Y(1300)} V${Y(310)} Q${X(1258)} ${Y(290)} ${X(1275)} ${Y(290)} H${X(1283)}`,fill:'none',stroke:B,'stroke-width':5});
main.forEach(i=>{const y=ry(i);hl(325,355,y,B,6);
 el(g,'polygon',{points:`${X(352)},${Y(y)} ${X(372)},${Y(y)-12} ${X(372)},${Y(y)+12}`,fill:'#d4d4d4'});hl(372,400,y,G,11);hl(563,603,y,G,11);});
el(g,'path',{d:`M${X(563)} ${Y(335)} H${X(590)} Q${X(603)} ${Y(335)} ${X(603)} ${Y(360)} V${Y(1210)} Q${X(603)} ${Y(1235)} ${X(623)} ${Y(1235)} H${X(958)} Q${X(978)} ${Y(1235)} ${X(978)} ${Y(1210)} V${Y(360)} Q${X(978)} ${Y(335)} ${X(998)} ${Y(335)} H${X(1005)}`,fill:'none',stroke:G,'stroke-width':9});
[5,12].forEach(i=>{const y=ry(i);hl(603,628,y,G,11);
 el(g,'polygon',{points:`${X(625)},${Y(y)} ${X(640)},${Y(y)-20} ${X(640)},${Y(y)+20}`,fill:'#d4d4d4'});hl(640,655,y,K,16);
 hl(907,940,y,K,16);el(g,'rect',{x:X(918),y:Y(y),width:11,height:Y(ry(i+4))-Y(y),fill:K});
 el(g,'polygon',{points:`${X(940)},${Y(y)-22} ${X(955)},${Y(y)} ${X(940)},${Y(y)+22}`,fill:K});
 hl(918,940,ry(i+4),K,12);
 el(g,'polygon',{points:`${X(940)},${Y(ry(i+4))-22} ${X(955)},${Y(ry(i+4))} ${X(940)},${Y(ry(i+4))+22}`,fill:'#999'});});
[1,5,9,12,16].forEach(i=>{const y=ry(i);hl(955,1005,y,G,9);});
[5,9,12,16].forEach(i=>{const y=ry(i);el(g,'circle',{cx:X(978),cy:Y(y),r:9,fill:'#fff',stroke:G,'stroke-width':3});
 el(g,'path',{d:`M${X(978)-5} ${Y(y)} h10 M${X(978)} ${Y(y)-5} v10`,stroke:G,'stroke-width':3});});
// expansion side
const grp=[[1,4],[5,8],[9,11],[12,15],[16,18]];
grp.forEach(([a,b])=>{hl(1178,1240,ry(a),G,11);
 el(g,'rect',{x:X(1210),y:Y(ry(a)),width:8,height:Y(ry(b))-Y(ry(a)),fill:G});
 for(let i=a;i<=b;i++){if(i>a)hl(1212,1238,ry(i),G,7);
  el(g,'polygon',{points:`${X(1232)},${Y(ry(i))-10} ${X(1248)},${Y(ry(i))} ${X(1232)},${Y(ry(i))+10}`,fill:i==a?G:'#b8c8a0'});}});
for(let i=1;i<19;i++){const y=ry(i);hl(1258,1283,y,B,5);
 el(g,'circle',{cx:X(1258),cy:Y(y),r:8,fill:'#fff',stroke:B,'stroke-width':3});
 el(g,'path',{d:`M${X(1258)-4} ${Y(y)} h8 M${X(1258)} ${Y(y)-4} v8`,stroke:B,'stroke-width':2.5});}
// legend icons
[[75,B],[108,G],[141,K]].forEach(([x,c])=>{el(g,'rect',{x:x,y:2652,width:24,height:60,rx:5,fill:c});el(g,'polygon',{points:`${x+5},${2656} ${x+19},${2656} ${x+19},${2672}`,fill:'#e6e6e6'});});
el(g,'circle',{cx:620,cy:2681,r:11,fill:G});el(g,'path',{d:'M614 2681 h12 M620 2675 v12',stroke:'#fff','stroke-width':3});
el(g,'circle',{cx:647,cy:2681,r:8,fill:B});el(g,'path',{d:'M643 2681 h8 M647 2677 v8',stroke:'#fff','stroke-width':2});
el(g,'polygon',{points:'1125,2681 1137,2660 1137,2702',fill:'#d4d4d4'});
el(g,'polygon',{points:'1326,2651 1338,2665 1338,2685 1326,2672',fill:'#444'});el(g,'polygon',{points:'1326,2690 1338,2700 1338,2712 1326,2712',fill:'#888'});
el(g,'polygon',{points:'1348,2660 1360,2650 1360,2680 1348,2685',fill:'#ccc'});el(g,'polygon',{points:'1348,2690 1360,2684 1360,2705 1348,2712',fill:'#b8c8a0'});
})();

// plots
(function(){const g=$('plots');const X=z=>1660+z*0.9665,Y=z=>1900+z*0.528;
const pl=(pts,c,w)=>el(g,'polyline',{points:pts.map(p=>X(p[0])+','+Y(p[1])).join(' '),fill:'none',stroke:c,'stroke-width':w||4,'stroke-linejoin':'round'});
// legend lines
pl([[133,115],[195,115]],'#2b2b2b',6);pl([[405,115],[470,115]],'#4a87a3',6);pl([[680,115],[745,115]],'#87a05a',6);
const cols=[0,485,970];const rows=[[268,732],[865,1332]];
const yt=[[[297,491,685],[320,458,596],[278,430,583]],[[920,1115,1310],[952,1153],[1005,1165,1325]]];
rows.forEach(([t,b],r)=>cols.forEach((dx,c)=>{
 [237,370,505].forEach(x=>el(g,'line',{x1:X(x+dx),y1:Y(t),x2:X(x+dx),y2:Y(b),stroke:'#e3e3e3','stroke-width':2,'stroke-dasharray':'8 6'}));
 yt[r][c].forEach(y=>el(g,'line',{x1:X(160+dx),y1:Y(y),x2:X(513+dx),y2:Y(y),stroke:'#e3e3e3','stroke-width':2,'stroke-dasharray':'8 6'}));
 el(g,'path',{d:`M${X(160+dx)} ${Y(t)} V${Y(b)} H${X(513+dx)}`,fill:'none',stroke:'#ccc','stroke-width':3});
 el(g,'text',{x:X(497+dx),y:Y(t+22)+10,'text-anchor':'middle','font-size':28,fill:'#e08a2c','font-family':'DejaVu Sans,sans-serif'}).textContent='★';
}));
const D={
hb:[[190,705],[205,680],[220,640],[240,595],[260,545],[285,480],[310,420],[340,360],[375,308]],
hu:[[175,712],[200,665],[225,610],[250,555],[280,480],[310,410],[345,345],[375,310]],
hg:[[178,700],[200,660],[230,580],[255,530],[270,485],[300,420],[330,360],[378,305]],
tb:[[675,688],[705,660],[730,630],[755,600],[775,560],[800,510],[820,470],[840,420],[862,362]],
tu:[[660,712],[690,700],[710,680],[730,665],[755,610],[775,580],[800,520],[830,450],[858,388]],
tg:[[660,712],[690,700],[715,690],[735,675],[750,630],[770,610],[790,550],[815,490],[840,430],[862,368]],
nb:[[1148,708],[1165,700],[1195,680],[1215,660],[1240,605],[1255,597],[1280,545],[1300,520],[1320,470],[1340,405]],
nu:[[1145,712],[1170,705],[1200,685],[1225,655],[1255,595],[1275,555],[1300,510],[1320,455],[1342,400]],
ng:[[1145,705],[1165,705],[1195,685],[1220,672],[1255,615],[1275,560],[1310,505],[1325,430],[1345,393]],
ab:[[190,1248],[205,1225],[220,1190],[240,1160],[260,1120],[285,1095],[300,1085],[320,1030],[340,990],[360,955],[378,940]],
au:[[175,1298],[200,1250],[220,1215],[250,1160],[280,1100],[300,1060],[320,1030],[345,1000],[360,960],[378,940]],
ag:[[178,1310],[195,1270],[215,1250],[240,1175],[265,1100],[300,1030],[325,990],[345,965],[360,955],[378,942]],
mb:[[675,1290],[700,1295],[720,1290],[750,1295],[780,1290],[805,1290],[820,1250],[835,1150],[845,1075],[862,1000]],
mu:[[660,1305],[690,1290],[710,1300],[735,1295],[760,1300],[785,1285],[805,1290],[825,1280],[840,1230],[858,1040]],
mg:[[660,1310],[680,1300],[700,1310],[725,1300],[755,1305],[775,1295],[805,1300],[825,1280],[840,1200],[862,1100]],
gb:[[1148,1305],[1170,1305],[1200,1308],[1230,1300],[1260,1298],[1290,1290],[1310,1285],[1325,1250],[1347,1215]],
gu:[[1145,1300],[1180,1305],[1220,1305],[1260,1305],[1295,1310],[1315,1290],[1345,1255]],
gg:[[1145,1305],[1185,1302],[1230,1305],[1270,1302],[1300,1300],[1320,1285],[1347,1248]]};
['h','t','n','a','m','g'].forEach(k=>{pl(D[k+'b'],'#2b2b2b',4);pl(D[k+'u'],'#4a87a3',4);pl(D[k+'g'],'#87a05a',4);});
})();

// cross-lingual table lines
(function(){const g=$('clines');
[[1797,3],[1865,2],[2058,2],[2250,2],[2368,2],[2486,2],[2527,2],[2569,3]].forEach(([y,w])=>el(g,'line',{x1:3277,y1:y,x2:3949,y2:y,stroke:'#111','stroke-width':w}));
[[1806,1858],[1876,2052],[2068,2244],[2260,2362],[2378,2480],[2494,2521],[2535,2563]].forEach(([a,b])=>{
 el(g,'line',{x1:3454,y1:a,x2:3454,y2:b,stroke:'#111','stroke-width':1.5});
 el(g,'line',{x1:3704,y1:Math.max(a,1833),x2:3704,y2:b,stroke:'#111','stroke-width':1.5});});
})();

// bar chart
(function(){const g=$('bars');
[1832,1961,2091,2350,2479].forEach(y=>el(g,'line',{x1:4087,y1:y,x2:4727,y2:y,stroke:'#1f6fe0','stroke-width':5,'stroke-dasharray':'18 11'}));
[[4120,2027],[4236,1796],[4342,1934],[4438,2070],[4649,2091]].forEach(([x,t])=>el(g,'path',{d:`M${x} 2221 V${t+8} Q${x} ${t} ${x+8} ${t} H${x+39} Q${x+47} ${t} ${x+47} ${t+8} V2221 Z`,fill:'#66788a'}));
el(g,'path',{d:'M4545 2221 V2496 Q4545 2504 4553 2504 H4583 Q4591 2504 4591 2496 V2221 Z',fill:'#66788a'});
el(g,'line',{x1:4087,y1:2221,x2:4727,y2:2221,stroke:'#3e4650','stroke-width':4});
// re-draw dashed over bars (dashes appear on top)
[1832,1961,2091,2350,2479].forEach(y=>el(g,'line',{x1:4087,y1:y,x2:4727,y2:y,stroke:'#1f6fe0','stroke-width':5,'stroke-dasharray':'18 11'}));
})();
})();
</script>
</body></html>
